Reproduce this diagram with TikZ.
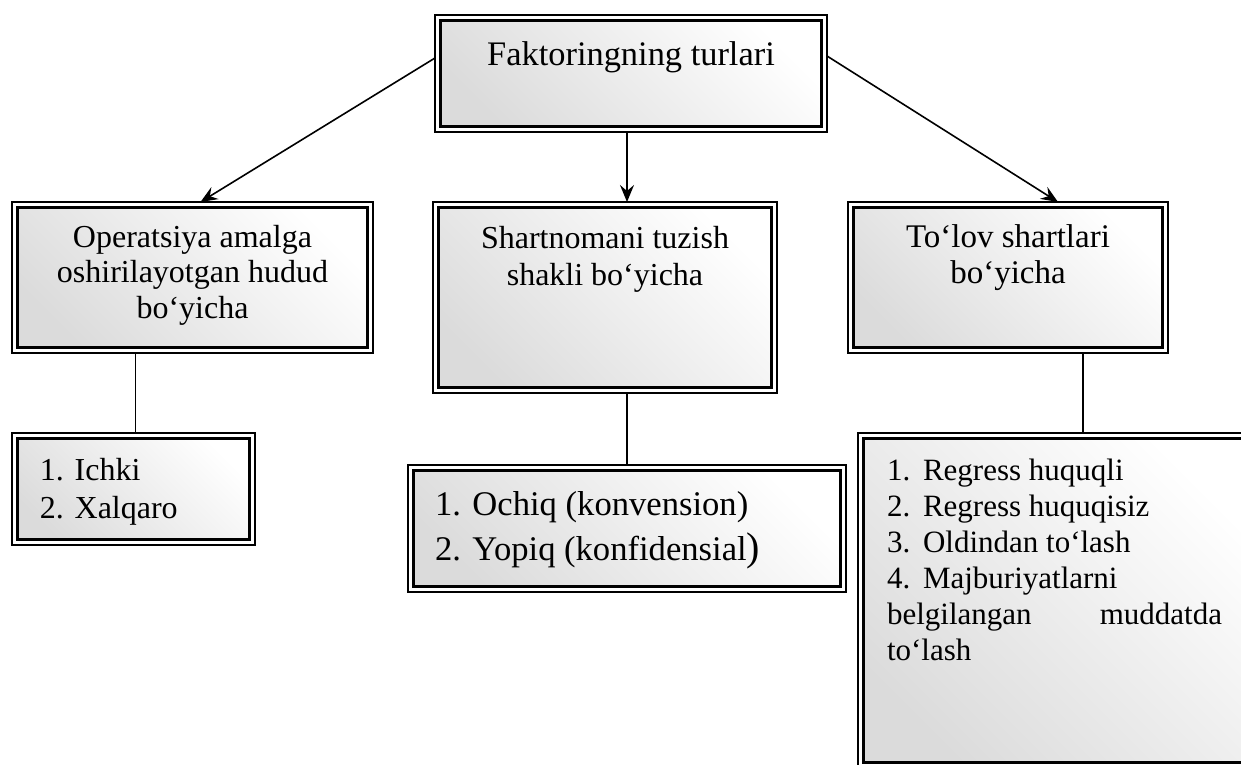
\documentclass[tikz,border=0pt]{standalone}
\usepackage{fontspec}
\setmainfont{Liberation Serif}
\usetikzlibrary{arrows.meta}

\tikzset{
  % outer thin frame; inner thick frame with a diagonal grey gradient
  frame/.style={draw, line width=1.8pt, fill=white, inner sep=0pt, outer sep=0pt,
    anchor=north west,
    path picture={
      \shade[top color=white, bottom color=black!14, shading angle=-45]
        ([shift={(5.5pt,5.5pt)}]path picture bounding box.south west) rectangle
        ([shift={(-5.5pt,-5.5pt)}]path picture bounding box.north east);
      \draw[line width=3pt]
        ([shift={(5.5pt,5.5pt)}]path picture bounding box.south west) rectangle
        ([shift={(-5.5pt,-5.5pt)}]path picture bounding box.north east);
    }},
  link/.style={line width=1.6pt},
  arr/.style={link, -{Stealth[length=17pt,width=14pt,inset=6pt]}},
}

\begin{document}
\begin{tikzpicture}[x=1pt, y=-1pt]
\useasboundingbox (0,0) rectangle (1241,764);
\clip (0,0) rectangle (1241,764);

% root
\node[frame] (top) at (435,15) {\parbox[c][117pt][t]{392pt}{\centering
  \fontsize{34.4pt}{40pt}\selectfont\rule{0pt}{50pt}Faktoringning turlari}};

% second level
\node[frame] (lm) at (12,202) {\parbox[c][151pt][t]{361pt}{\centering
  \fontsize{32pt}{35.5pt}\selectfont\rule{0pt}{45pt}Operatsiya amalga\\
  oshirilayotgan hudud\\ bo‘yicha}};
\node[frame] (mm) at (433,202) {\parbox[c][191pt][t]{344pt}{\centering
  \fontsize{32pt}{37pt}\selectfont\rule{0pt}{46pt}Shartnomani tuzish\\
  shakli bo‘yicha}};
\node[frame] (rm) at (848,202) {\parbox[c][151pt][t]{320pt}{\centering
  \fontsize{33pt}{36pt}\selectfont\rule{0pt}{45pt}To‘lov shartlari\\ bo‘yicha}};

% lists
\node[frame] (lb) at (12,433) {\parbox[c][112pt][t]{243pt}{\raggedright
  \leftskip=28pt\fontsize{32pt}{38pt}\selectfont\rule{0pt}{47pt}1. Ichki\\
  2. Xalqaro}};
\node[frame] (mb) at (408,465) {\parbox[c][127pt][t]{438pt}{\raggedright
  \leftskip=27pt\fontsize{34.6pt}{45pt}\selectfont\rule{0pt}{50pt}1. Ochiq (konvension)\\
  2. Yopiq (konfidensial{\fontsize{40pt}{45pt}\selectfont)}}};
\node[frame] (rb) at (858,433) {\parbox[c][335pt][t]{400pt}{\raggedright
  \leftskip=29pt\fontsize{31pt}{36pt}\selectfont\rule{0pt}{47pt}%
  \makebox[36pt][l]{1.}Regress huquqli\\
  \makebox[36pt][l]{2.}Regress huquqisiz\\
  \makebox[36pt][l]{3.}Oldindan to‘lash\\
  \makebox[36pt][l]{4.}Majburiyatlarni\\
  \makebox[335pt][l]{belgilangan\hfill muddatda}\\
  to‘lash}};

% connectors
\draw[arr] ([yshift=-43pt]top.north west) -- ([xshift=8pt]lm.north);
\draw[arr] ([xshift=-4pt]top.south) -- ([xshift=-4pt]top.south |- mm.north);
\draw[arr] ([yshift=-41pt]top.north east) -- ([xshift=50pt]rm.north);

\draw[link] ([xshift=-57pt]lm.south) -- ([xshift=-57pt]lm.south |- lb.north);
\draw[link] ([xshift=22pt]mm.south) -- ([xshift=22pt]mm.south |- mb.north);
\draw[link] ([xshift=75pt]rm.south) -- ([xshift=75pt]rm.south |- rb.north);
\end{tikzpicture}
\end{document}
